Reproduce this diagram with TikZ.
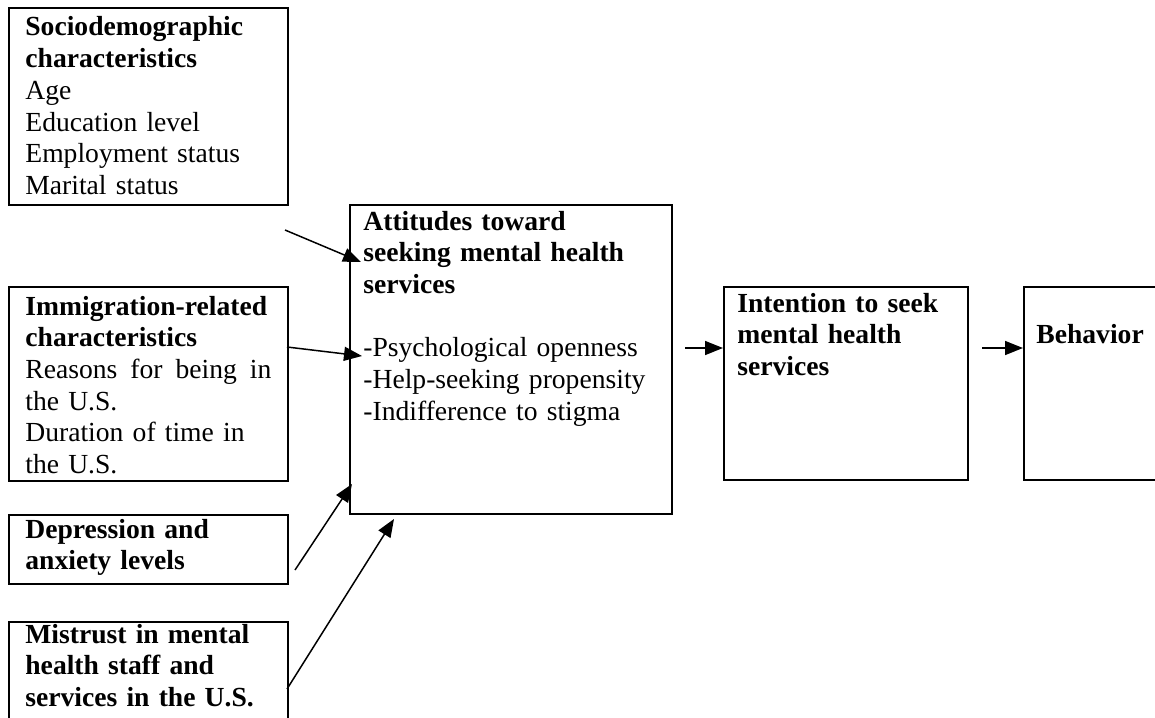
\documentclass[tikz,border=0pt]{standalone}
\usepackage{fontspec}
\setmainfont{Liberation Serif}
\usetikzlibrary{arrows.meta,calc}
\begin{document}
\begin{tikzpicture}[x=0.5pt,y=-0.5pt,
  box/.style={draw, line width=1pt, rectangle, inner sep=0pt, anchor=north west},
  txt/.style={anchor=base west, inner sep=0pt, align=left, text width=160pt,
    font=\fontsize{13.8pt}{15.85pt}\selectfont},
  arr/.style={line width=0.75pt, -{Triangle[length=9pt,width=7pt]}}]
\useasboundingbox (0,0) rectangle (1155,717);
\fill[white] (0,0) rectangle (1155,717);
% boxes
\node[box, minimum width=139.5pt, minimum height=98.5pt] (soc) at (8,7) {};
\node[box, minimum width=139.5pt, minimum height=97pt] (imm) at (8,286) {};
\node[box, minimum width=139.5pt, minimum height=34.5pt] (dep) at (8,514) {};
\node[box, minimum width=139.5pt, minimum height=60pt] (mis) at (8,621) {};
\node[box, minimum width=161pt, minimum height=154.5pt] (att) at (349,204) {};
\node[box, minimum width=122pt, minimum height=96.5pt] (int) at (723,286) {};
\node[box, minimum width=80pt, minimum height=96.5pt] (beh) at (1023,286) {};
% texts
\node[txt] (soct) at (25,36) {\textbf{Sociodemographic}\\\textbf{characteristics}\\Age\\Education level\\Employment status\\Marital status};
\node[txt] (immt) at (25,315) {\textbf{Immigration-related}\\\textbf{characteristics}\\\makebox[123pt][l]{Reasons\hfill for\hfill being\hfill in}\\the U.S.\\Duration of time in\\the U.S.};
\node[txt] (dept) at (25,538) {\textbf{Depression and}\\\textbf{anxiety levels}};
\node[txt] (mist) at (25,643) {\textbf{Mistrust in mental}\\\textbf{health staff and}\\\textbf{services in the U.S.}};
\node[txt] (attt) at (363,230) {\textbf{Attitudes toward}\\\textbf{seeking mental health}\\\textbf{services}\\\mbox{}\\-Psychological openness\\-Help-seeking propensity\\-Indifference to stigma};
\node[txt] (intt) at (737,312) {\textbf{Intention to seek}\\\textbf{mental health}\\\textbf{services}};
\node[txt] (beht) at (1036,343) {\textbf{Behavior}};
% connectors
\draw[arr] ($(soc.south east)+(-4,24)$) -- ($(att.north west)+(12,58)$);
\draw[arr] ($(imm.north east)+(-2,61)$) -- ($(att.north west)+(13,152)$);
\draw[arr] ($(dep.south east)+(6,-15)$) -- ($(att.north west)+(3,280)$);
\draw[arr] ($(mis.north east)+(-2,68)$) -- ($(att.north west)+(45,315)$);
\draw[arr] ($(att.north east)+(12,144)$) -- (int.west |- 0,348);
\draw[arr] ($(int.north east)+(13,62)$) -- (beh.west |- 0,348);
\end{tikzpicture}
\end{document}
